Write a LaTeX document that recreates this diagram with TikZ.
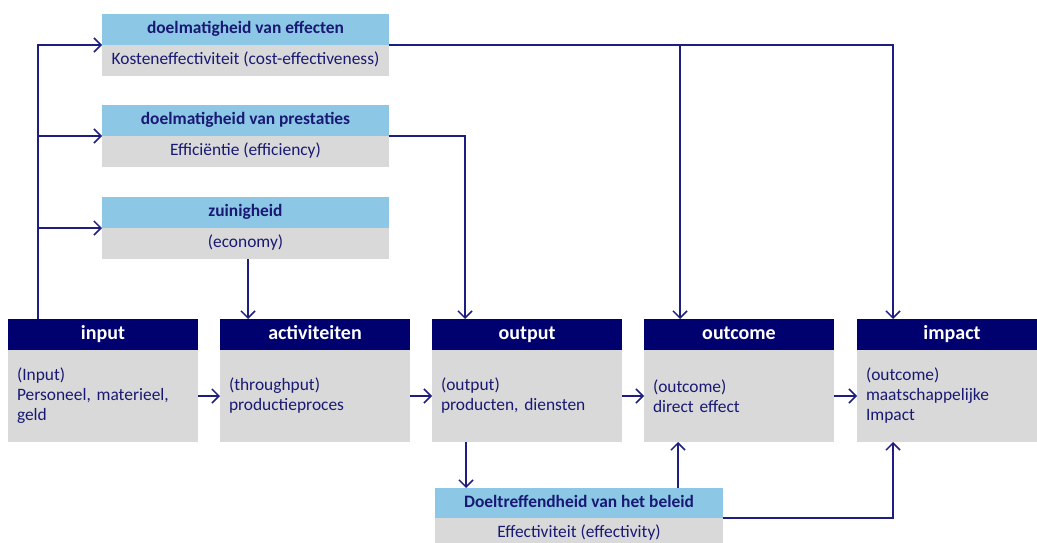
\documentclass[tikz,border=0pt]{standalone}
\usepackage{fontspec}
\setmainfont{Carlito}
\usetikzlibrary{arrows.meta}
\definecolor{navy}{RGB}{0,0,110}
\definecolor{lblue}{RGB}{140,200,230}
\definecolor{lgrey}{RGB}{217,217,217}
\definecolor{txt}{RGB}{25,25,115}
\definecolor{lnc}{RGB}{30,30,130}
\begin{document}
\begin{tikzpicture}[x=1pt,y=-1pt,
  every node/.style={inner sep=0pt,outer sep=0pt},
  bighdr/.style={fill=navy,text=white,font=\fontsize{20}{24}\selectfont\bfseries,text height=14pt,text depth=4pt,minimum width=190pt,minimum height=31pt,anchor=north west},
  bigbody/.style={fill=lgrey,text=txt,font=\fontsize{17.4}{20}\selectfont,text width=172pt,inner xsep=9pt,align=left,minimum height=92pt,anchor=north west},
  tophdr/.style={fill=lblue,text=txt,font=\fontsize{17.4}{20}\selectfont\bfseries,text height=12pt,text depth=3.5pt,minimum width=287pt,minimum height=31pt,anchor=north west},
  topbody/.style={fill=lgrey,text=txt,font=\fontsize{17.4}{20}\selectfont,text height=12pt,text depth=3.5pt,minimum width=287pt,minimum height=31pt,anchor=north west},
  arr/.style={draw=lnc,line width=1.5pt,-{Straight Barb[length=7pt,width=14pt,line width=1.5pt]}}]
\useasboundingbox (0,0) rectangle (1037,543);
\clip (0,0) rectangle (1037,543);
% top boxes
\node[tophdr] (e1H) at (102,14) {doelmatigheid van effecten};
\node[topbody] (e1B) at (102,45) {Kosteneffectiviteit (cost-effectiveness)};
\node[tophdr] (e2H) at (102,105) {doelmatigheid van prestaties};
\node[topbody] (e2B) at (102,136) {Efficiëntie (efficiency)};
\node[tophdr] (e3H) at (102,197) {zuinigheid};
\node[topbody] (e3B) at (102,228) {(economy)};
% main row
\node[bighdr] (inH) at (8,319) {input};
\node[bigbody] (inB) at (8,350) {(Input)\\Personeel, materieel,\\geld};
\node[bighdr] (actH) at (220,319) {activiteiten};
\node[bigbody] (actB) at (220,350) {(throughput)\\productieproces};
\node[bighdr] (outH) at (432,319) {output};
\node[bigbody] (outB) at (432,350) {(output)\\producten, diensten};
\node[bighdr] (ocH) at (644,319) {outcome};
\node[bigbody] (ocB) at (644,350) {(outcome)\\direct effect};
\node[bighdr] (imH) at (857,319) {impact};
\node[bigbody] (imB) at (857,350) {(outcome)\\maatschappelijke\\Impact};
% bottom box
\node[tophdr,minimum width=288pt,minimum height=30pt] (dH) at (435,488) {Doeltreffendheid van het beleid};
\node[topbody,minimum width=288pt,minimum height=30pt] (dB) at (435,518) {Effectiviteit (effectivity)};
% helper coordinates
\coordinate (inT) at ([xshift=30pt]inH.north west);
\coordinate (actT) at ([xshift=28pt]actH.north west);
\coordinate (outT) at ([xshift=33pt]outH.north west);
\coordinate (ocT) at ([xshift=36pt]ocH.north west);
\coordinate (imT) at ([xshift=36pt]imH.north west);
\coordinate (outD) at ([xshift=34pt]outB.south west);
\coordinate (ocD) at ([xshift=34pt]ocB.south west);
\coordinate (imD) at ([xshift=36pt]imB.south west);
% connectors
\draw[arr] (inT) |- (e1H.south west);
\draw[arr] (inT) |- (e2H.south west);
\draw[arr] (inT) |- (e3H.south west);
\draw[arr] (e1H.south east) -| (imT);
\draw[arr] (ocT |- e1H.south east) -- (ocT);
\draw[arr] (e2H.south east) -| (outT);
\draw[arr] (actT |- e3B.south) -- (actT);
\draw[arr] (inB.east) -- (actB.west);
\draw[arr] (actB.east) -- (outB.west);
\draw[arr] (outB.east) -- (ocB.west);
\draw[arr] (ocB.east) -- (imB.west);
\draw[arr] (outD) -- (outD |- dH.north);
\draw[arr] (ocD |- dH.north) -- (ocD);
\draw[arr] (dH.south east) -| (imD);
\end{tikzpicture}
\end{document}
